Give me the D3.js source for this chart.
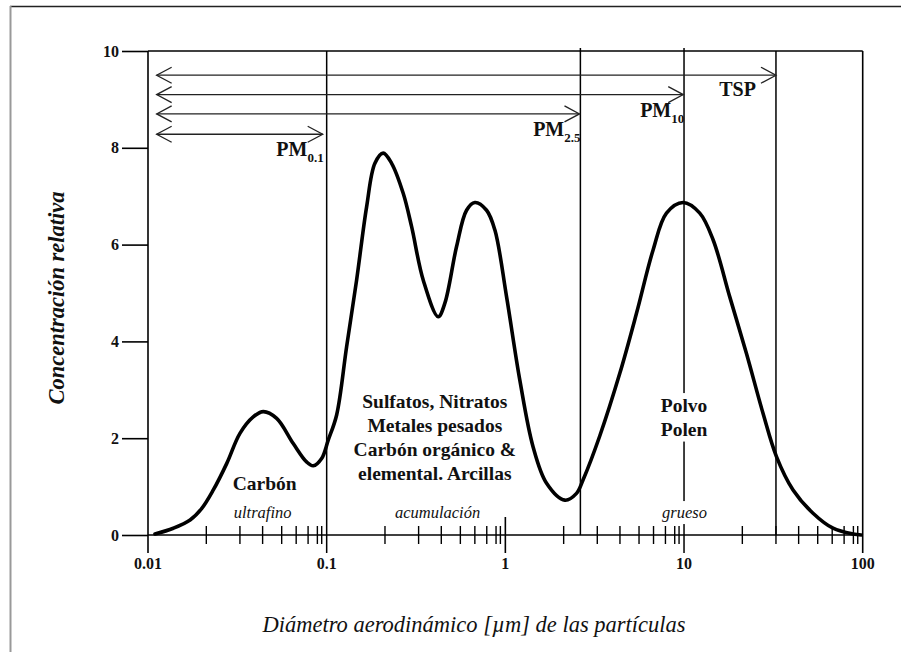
<!DOCTYPE html>
<html><head><meta charset="utf-8">
<script src="https://cdn.jsdelivr.net/npm/d3@7"></script>
<style>
body{margin:0;background:#fff}
svg{display:block}
text{font-family:"Liberation Serif","Times New Roman",serif;fill:#111}
</style>
</head><body>
<svg id="c" width="901" height="652"></svg>
<script>
// ---- data ----
const diameters = [0.01094,0.01385,0.0172,0.0200,0.0232,0.0276,0.0327,0.0388,0.0442,0.0525,0.0650,0.0772,0.0841,0.0937,0.102,0.1137,0.1293,0.1471,0.1673,0.1862,0.2072,0.2309,0.2681,0.2988,0.3469,0.4209,0.4587,0.5333,0.6067,0.6752,0.785,0.874,1.016,1.205,1.430,1.701,2.153,2.502,2.724,3.379,4.371,5.42,6.713,7.977,9.879,12.25,14.54,18.03,22.36,27.70,32.91,40.75,52.72,68.22,88.25,98.3];
const concentration = [0.02,0.14,0.31,0.55,0.93,1.48,2.10,2.44,2.55,2.41,1.89,1.51,1.43,1.58,1.96,2.48,3.89,5.27,6.78,7.68,7.89,7.68,7.06,6.37,5.27,4.51,4.79,5.96,6.71,6.87,6.71,6.30,4.92,3.20,1.82,1.07,0.72,0.86,1.14,2.05,3.34,4.58,5.89,6.65,6.87,6.65,6.10,4.92,3.75,2.51,1.62,0.93,0.45,0.14,0.02,0];

const xTickValues = [0.01,0.1,1,10,100];
const xTickLabels = ["0.01","0.1","1","10","100"];
const yTickValues = [0,2,4,6,8,10];
const yTickLabels = ["0","2","4","6","8","10"];
// minor tick multipliers as drawn in the figure (nominally 2..9)
const minorMultipliers = [2.12,3.27,4.38,5.6,6.75,7.87,8.87,9.38];
const decadeStarts = [0.01,0.1,1,10];

const cutNames = ["PM","PM","PM","TSP"];
const cutSubs = ["0.1","2.5","10",""];
const cutSizes = [0.1,2.63,10,32.7];
const arrowLevels = [8.28,8.7,9.1,9.5];
const arrowStart = 0.01118;
const arrowTips = [0.095,2.6,9.9,32.7];

const modeNames = ["ultrafino","acumulación","grueso"];
const modeCenters = [0.0438,0.4176,10.07];
const modeLevel = 0.35;

const carbonLabel = ["Carbón"];
const carbonPos = [0.045,0.93];
const fineLabels = ["Sulfatos, Nitratos","Metales pesados","Carbón orgánico &","elemental. Arcillas"];
const finePos = [0.403,2.63];
const coarseLabels = ["Polvo","Polen"];
const coarsePos = [10.0,2.54];

const yTitle = "Concentración relativa";
const xTitle = "Diámetro aerodinámico [µm] de las partículas";

// ---- drawing ----
const svg = d3.select("#c");
const L = 148, R = 862.7, T = 51, B = 535;
const x = d3.scaleLog().domain([0.01,100]).range([L,R]);
const y = d3.scaleLinear().domain([0,10]).range([B,T]);

// outer frame
svg.append("line").attr("x1",10).attr("x2",901).attr("y1",6.5).attr("y2",6.5).attr("stroke","#222").attr("stroke-width",1.5);
svg.append("line").attr("x1",10.5).attr("x2",10.5).attr("y1",6).attr("y2",652).attr("stroke","#999").attr("stroke-width",2);

const g = svg.append("g");

// plot box: top + left + right
g.append("line").attr("x1",L).attr("x2",R).attr("y1",T).attr("y2",T).attr("stroke","#000").attr("stroke-width",1.6);
g.append("line").attr("x1",L).attr("x2",L).attr("y1",T).attr("y2",B+18).attr("stroke","#000").attr("stroke-width",1.6);
g.append("line").attr("x1",R).attr("x2",R).attr("y1",T).attr("y2",B+18).attr("stroke","#000").attr("stroke-width",1.6);

// y axis ticks (outer)
const yAxis = d3.axisLeft(y).tickValues(yTickValues).tickFormat((d,i)=>yTickLabels[i]).tickSize(26).tickPadding(3);
const ya = g.append("g").attr("transform",`translate(${L},0)`).call(yAxis);
ya.select(".domain").remove();
ya.selectAll("line").attr("stroke","#000").attr("stroke-width",1.6);
ya.selectAll("text").attr("font-size",16).attr("font-weight","bold").attr("font-family","Liberation Serif").attr("fill","#111");

// x axis baseline
g.append("line").attr("x1",L).attr("x2",R).attr("y1",B).attr("y2",B).attr("stroke","#000").attr("stroke-width",1.6);

// minor ticks
const minorVals = [];
decadeStarts.forEach(d=>minorMultipliers.forEach(m=>minorVals.push(d*m)));
g.selectAll(".minor").data(minorVals).enter().append("line")
  .attr("x1",d=>x(d)).attr("x2",d=>x(d)).attr("y1",B-9).attr("y2",B+9)
  .attr("stroke","#000").attr("stroke-width",1.4);

// major tick at 1
g.append("line").attr("x1",x(1)).attr("x2",x(1)).attr("y1",B-18).attr("y2",B+18).attr("stroke","#000").attr("stroke-width",1.6);

// x tick labels
g.selectAll(".xl").data(xTickValues).enter().append("text")
  .attr("x",d=>x(d)).attr("y",B+34).attr("text-anchor","middle")
  .attr("font-size",16).attr("font-weight","bold").text((d,i)=>xTickLabels[i]);

// cut-off vertical lines
g.selectAll(".cut").data(cutSizes).enter().append("line")
  .attr("x1",d=>x(d)).attr("x2",d=>x(d))
  .attr("y1",(d,i)=> (i===1||i===2)? T-3 : T)
  .attr("y2",(d,i)=> (i===0||i===2)? B+18 : B)
  .attr("stroke","#000").attr("stroke-width",1.5);

// arrows
const ag = g.append("g").attr("stroke","#222").attr("stroke-width",1.3).attr("fill","none");
arrowLevels.forEach((lv,i)=>{
  const yy = y(lv), x0 = x(arrowStart), x1 = x(arrowTips[i]);
  ag.append("line").attr("x1",x0).attr("x2",x1).attr("y1",yy).attr("y2",yy);
  ag.append("path").attr("d",`M${x0+15},${yy-8}L${x0},${yy}L${x0+15},${yy+8}`);
  ag.append("path").attr("d",`M${x1-15},${yy-8}L${x1},${yy}L${x1-15},${yy+8}`);
});

// arrow labels
arrowLevels.forEach((lv,i)=>{
  const t = g.append("text").attr("font-weight","bold").attr("font-size",20)
    .attr("text-anchor","end");
  if(cutSubs[i]){
    t.attr("x",x(arrowTips[i])+1).attr("y",y(lv)+22);
    t.append("tspan").text(cutNames[i]);
    t.append("tspan").attr("font-size",13).attr("dy",6).text(cutSubs[i]);
  } else {
    t.attr("x",x(arrowTips[i])-20).attr("y",y(lv)+21).text(cutNames[i]);
  }
});

// labels with white background helper
function bgText(lines, px, baseY, size, weight, style, lh){
  const grp = g.append("g");
  const txt = grp.append("text").attr("text-anchor","middle").attr("font-size",size)
    .attr("font-weight",weight).attr("font-style",style);
  lines.forEach((s,i)=>txt.append("tspan").attr("x",px).attr("y",baseY+i*lh).text(s));
  const bb = txt.node().getBBox();
  grp.insert("rect","text").attr("x",bb.x-2).attr("y",bb.y-2).attr("width",bb.width+4).attr("height",bb.height+4).attr("fill","#fff");
  return grp;
}

// mode names
modeNames.forEach((s,i)=>bgText([s], x(modeCenters[i]), y(modeLevel), 16.5, "normal", "italic", 0));

// curve
const line = d3.line().x(d=>x(d[0])).y(d=>y(d[1])).curve(d3.curveCatmullRom.alpha(0.5));
g.append("path").datum(diameters.map((d,i)=>[d,concentration[i]]))
  .attr("d",line).attr("fill","none").attr("stroke","#000").attr("stroke-width",3.6)
  .attr("stroke-linejoin","round").attr("stroke-linecap","round");

// region labels
bgText(carbonLabel, x(carbonPos[0]), y(carbonPos[1]), 19.5, "bold", "normal", 0).select("rect").attr("fill","none");
bgText(fineLabels, x(finePos[0]), y(finePos[1]), 19.5, "bold", "normal", 24).select("rect").attr("fill","none");
bgText(coarseLabels, x(coarsePos[0]), y(coarsePos[1]), 19.5, "bold", "normal", 23.5);

// axis titles
svg.append("text").attr("transform",`translate(64,298) rotate(-90)`).attr("text-anchor","middle")
  .attr("font-size",22.5).attr("font-weight","bold").attr("font-style","italic").text(yTitle);
svg.append("text").attr("x",474).attr("y",632).attr("text-anchor","middle")
  .attr("font-size",22.5).attr("font-style","italic").text(xTitle);
</script>
</body></html>
